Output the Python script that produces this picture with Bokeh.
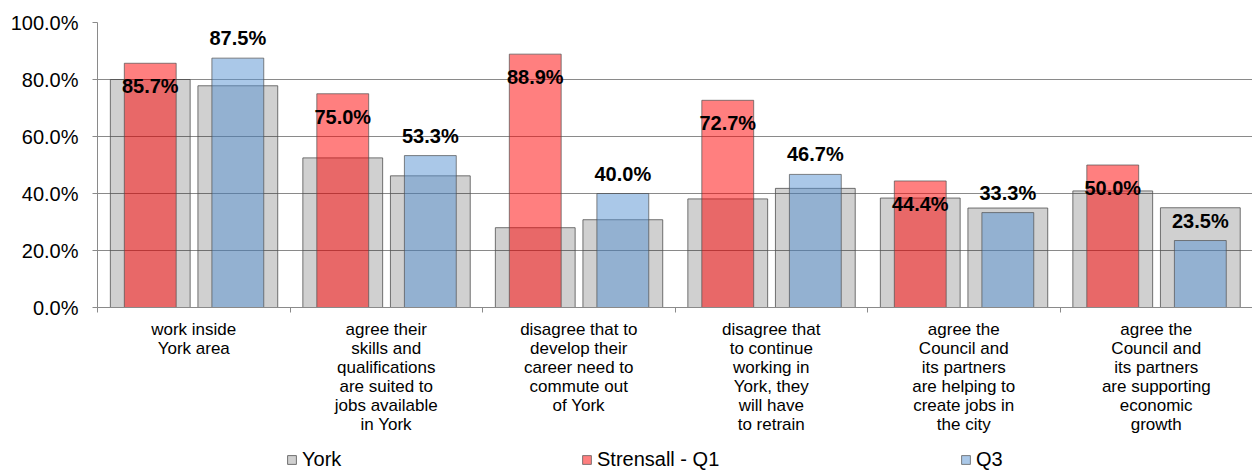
from bokeh.plotting import figure
from bokeh.layouts import column
from bokeh.models import (ColumnDataSource, FixedTicker, NumeralTickFormatter,
                          Legend, LegendItem, Range1d)
from bokeh.core.properties import value
from bokeh.embed import file_html
from bokeh.resources import INLINE

# ---- data ----
categories = [
    "work inside\nYork area",
    "agree their\nskills and\nqualifications\nare suited to\njobs available\nin York",
    "disagree that to\ndevelop their\ncareer need to\ncommute out\nof York",
    "disagree that\nto continue\nworking in\nYork, they\nwill have\nto retrain",
    "agree the\nCouncil and\nits partners\nare helping to\ncreate jobs in\nthe city",
    "agree the\nCouncil and\nits partners\nare supporting\neconomic\ngrowth",
]
york_q1 = [0.800, 0.525, 0.280, 0.381, 0.384, 0.409]
york_q3 = [0.778, 0.462, 0.308, 0.418, 0.349, 0.350]
strensall_q1 = [0.857, 0.750, 0.889, 0.727, 0.444, 0.500]
strensall_q3 = [0.875, 0.533, 0.400, 0.467, 0.333, 0.235]
y_ticks = [0.0, 0.2, 0.4, 0.6, 0.8, 1.0]
legend_labels = ["York", "Strensall - Q1", "Q3"]

FONT = "Liberation Sans"
n = len(categories)
centers = [i + 0.5 for i in range(n)]
x_left = [c - 0.226 for c in centers]
x_right = [c + 0.229 for c in centers]

src = ColumnDataSource(dict(
    xl=x_left, xr=x_right,
    yq1=york_q1, yq3=york_q3,
    s1=strensall_q1, s3=strensall_q3,
    t1=[f"{v*100:.1f}%" for v in strensall_q1],
    t3=[f"{v*100:.1f}%" for v in strensall_q3],
))

p = figure(width=1252, height=443, output_backend="svg", toolbar_location=None,
           x_range=Range1d(0, n), y_range=Range1d(0, 1),
           min_border_left=97, min_border_right=0, min_border_top=22,
           min_border_bottom=136)
p.outline_line_color = None
p.background_fill_color = "white"

GRID = "#8a8a8a"
p.xgrid.grid_line_color = None
p.ygrid.grid_line_color = GRID
p.ygrid.grid_line_width = 1

gray_kw = dict(fill_color="black", fill_alpha=0.185, line_color="#505050", line_alpha=0.8, line_width=1)
red_kw = dict(fill_color="#ff0000", fill_alpha=0.5, line_color="#505050", line_alpha=0.7)
blue_kw = dict(fill_color="#5591d1", fill_alpha=0.5, line_color="#505050", line_alpha=0.7)

p.vbar(x="xl", top="yq1", width=0.4145, bottom=0, source=src, **gray_kw)
p.vbar(x="xr", top="yq3", width=0.4145, bottom=0, source=src, **gray_kw)
p.vbar(x="xl", top="s1", width=0.2694, bottom=0, source=src, **red_kw)
p.vbar(x="xr", top="s3", width=0.2694, bottom=0, source=src, **blue_kw)

lbl_kw = dict(text_font=value(FONT), text_font_style="bold", text_font_size="20px",
              text_align="center", text_baseline="middle", text_color="black")
p.text(x="xl", y="s1", text="t1", y_offset=23, source=src, **lbl_kw)
p.text(x="xr", y="s3", text="t3", y_offset=-20, source=src, **lbl_kw)

# y axis
ya = p.yaxis[0]
ya.ticker = FixedTicker(ticks=y_ticks)
ya.formatter = NumeralTickFormatter(format="0.0%")
ya.major_label_text_font = FONT
ya.major_label_text_font_size = "20px"
ya.major_label_text_color = "black"
ya.major_tick_out = 5
ya.major_tick_in = 0
ya.minor_tick_out = 0
ya.minor_tick_in = 0
ya.major_label_standoff = 14
ya.axis_line_color = GRID
ya.major_tick_line_color = GRID

# x axis
xa = p.xaxis[0]
xa.ticker = FixedTicker(ticks=centers, minor_ticks=list(range(n + 1)))
xa.major_label_overrides = {c: lab for c, lab in zip(centers, categories)}
xa.major_label_text_font = FONT
xa.major_label_text_font_size = "17px"
xa.major_label_text_color = "black"
xa.major_label_text_line_height = 1.0
xa.major_tick_out = 0
xa.major_tick_in = 0
xa.minor_tick_out = 5
xa.minor_tick_in = 0
xa.major_label_standoff = 7
xa.axis_line_color = GRID
xa.minor_tick_line_color = GRID

# legend strip below the chart (its frame is aligned with the chart frame)
lg = figure(width=1252, height=28, output_backend="svg", toolbar_location=None,
            x_range=Range1d(100, 101), y_range=Range1d(100, 101),
            x_axis_location=None, y_axis_location=None,
            min_border_left=0, min_border_right=0, min_border_top=0, min_border_bottom=0)
lg.outline_line_color = None
lg.grid.visible = False
d_y = lg.vbar(x="xl", top="yq1", width=0.4145, source=src, **gray_kw)
d_r = lg.vbar(x="xl", top="s1", width=0.2694, source=src, **red_kw)
d_b = lg.vbar(x="xr", top="s3", width=0.2694, source=src, **blue_kw)

for lab, rend, xpos in zip(legend_labels, [d_y, d_r, d_b], [189, 484, 863]):
    leg = Legend(items=[LegendItem(label=lab, renderers=[rend])],
                 location=(xpos, 0), orientation="horizontal",
                 padding=0, margin=0, spacing=0,
                 glyph_width=11, glyph_height=11, label_standoff=5,
                 label_height=20, label_text_font=FONT, label_text_font_size="20px",
                 label_text_color="black", border_line_alpha=0,
                 background_fill_alpha=0)
    lg.add_layout(leg, "center")

layout = column(p, lg, spacing=0)
open("out.html", "w").write(file_html(layout, INLINE))
